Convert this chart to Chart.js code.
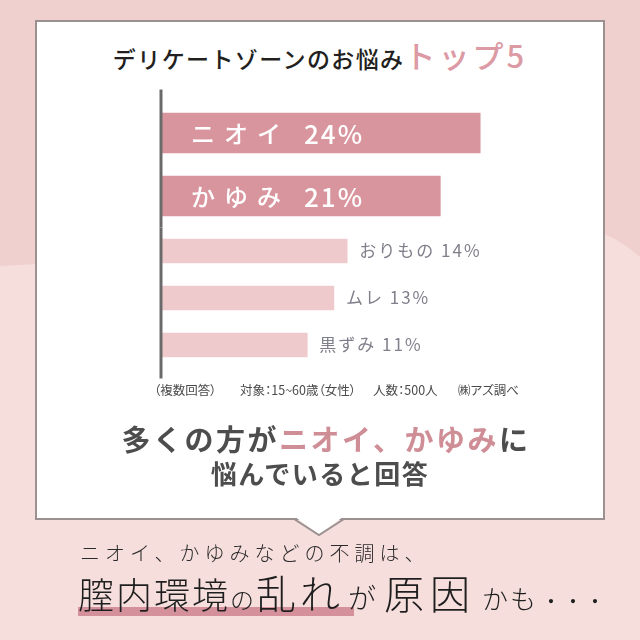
<!DOCTYPE html>
<html lang="ja">
<head>
<meta charset="utf-8">
<script src="https://cdn.jsdelivr.net/npm/chart.js@4/dist/chart.umd.min.js"></script>
<style>
  html, body { margin: 0; padding: 0; }
  body { width: 640px; height: 640px; position: relative; overflow: hidden;
         font-family: "Noto Sans CJK JP", "Noto Sans", sans-serif; background: #f6dedd; }
  .abs { position: absolute; white-space: nowrap; }
  #bg { position: absolute; left: 0; top: 0; }
  #box { position: absolute; left: 35px; top: 20px; width: 570px; height: 500px;
         box-sizing: border-box; border: 2px solid #9b9191; background: #fff; }
  #tail { position: absolute; left: 0; top: 0; }
  canvas { position: absolute; left: 0; top: 0; }
  .title1 { font-size: 23px; font-weight: 500; color: #231f20; letter-spacing: 1.4px; }
  .title2 { font-size: 31px; font-weight: 500; color: #dc9aa4; letter-spacing: 3px; }
  .note { font-size: 12.5px; color: #4a4a4a; top: 382px; line-height: 16px; font-feature-settings: "palt"; }
  .msg1 { left: 0; width: 640px; text-align: center; top: 421px; line-height: 34px;
          font-size: 29px; font-weight: 700; color: #4d4d4d; letter-spacing: 2.5px; padding-left: 6px; }
  .msg1 .pk { color: #cf8d96; }
  .msg2 { left: 0; width: 640px; text-align: center; top: 457px; line-height: 32px;
          font-size: 26px; font-weight: 700; color: #4d4d4d; letter-spacing: 1.5px; }
  .sub1 { left: 80px; top: 540px; line-height: 26px; font-size: 20px; font-weight: 300;
          color: #2b2b2b; letter-spacing: 5px; }
  .sub2 { left: 78px; top: 569px; line-height: 46px; font-weight: 300; color: #1e1e1e; }
  .sub2 span { display: inline-block; }
  #uline { position: absolute; left: 78px; top: 607px; width: 276px; height: 9px; background: #d4919b; }
</style>
</head>
<body>
<svg id="bg" width="640" height="640">
  <rect x="0" y="0" width="640" height="640" fill="#f6dedd"/>
  <path d="M0 0 L640 0 L640 257 Q620 240 604 234 Q300 250 0 266 Z" fill="#f0cfcf"/>
</svg>
<div id="box"></div>
<svg id="tail" width="640" height="640">
  <polygon points="294,516 319,535 344,516" fill="#fff"/>
  <polyline points="294,519 319,535 344,519" fill="none" stroke="#9b9191" stroke-width="2"/>
</svg>

<div class="abs" style="left:0;width:640px;text-align:center;top:33px;line-height:44px;">
  <span class="title1">デリケートゾーンのお悩み</span><span class="title2">トップ5</span>
</div>

<canvas id="chartTop" width="640" height="640"></canvas>
<canvas id="chartOther" width="640" height="640"></canvas>

<div class="abs note" style="left:154px;">（複数回答）</div>
<div class="abs note" style="left:240px;">対象：15~60歳（女性）</div>
<div class="abs note" style="left:373px;">人数：500人</div>
<div class="abs note" style="left:458px;">㈱アズ調べ</div>

<div class="abs msg1">多くの方が<span class="pk">ニオイ、かゆみ</span>に</div>
<div class="abs msg2">悩んでいると回答</div>

<div id="uline"></div>
<div class="abs sub1">ニオイ、かゆみなどの不調は、</div>
<div class="abs sub2"><span style="width:152px;font-size:36px;letter-spacing:2px;">膣内環境</span><span style="width:26px;font-size:24px;">の</span><span style="width:92px;font-size:40px;letter-spacing:4px;">乱れ</span><span style="width:36px;font-size:28px;">が</span><span style="width:98px;font-size:40px;letter-spacing:6px;">原因</span><span style="width:58px;font-size:26px;letter-spacing:2px;">かも</span><span style="font-size:22px;letter-spacing:0px;">・・・</span></div>

<script>
// ---- data ----
const topCategories = ['ニオイ', 'かゆみ'];
const topValues = [24, 21];
const otherCategories = ['おりもの', 'ムレ', '黒ずみ'];
const otherValues = [14, 13, 11];
const xMax = 30;

const pxPerUnit = 13.3;
const plotLeft = 161;
const plotRight = 640 - plotLeft - xMax * pxPerUnit;

function labelPlugin(kind) {
  return {
    id: 'barLabels',
    afterDatasetsDraw(chart) {
      const ctx = chart.ctx;
      ctx.save();
      ctx.textBaseline = 'middle';
      ctx.textAlign = 'left';
      chart.getDatasetMeta(0).data.forEach((bar, i) => {
        if (kind === 'top') {
          ctx.fillStyle = '#ffffff';
          ctx.font = '500 24px "Noto Sans CJK JP"';
          ctx.letterSpacing = '9px';
          ctx.fillText(topCategories[i], bar.base + 30, bar.y + 1);
          ctx.font = '500 26px "Noto Sans CJK JP"';
          ctx.letterSpacing = '2px';
          ctx.fillText(topValues[i] + '%', bar.base + 143, bar.y + 1);
        } else {
          ctx.fillStyle = '#80808c';
          ctx.font = '400 17px "Noto Sans CJK JP"';
          ctx.letterSpacing = '2px';
          ctx.fillText(otherCategories[i] + ' ' + otherValues[i] + '%', bar.x + 12, bar.y);
        }
      });
      ctx.restore();
    }
  };
}

function axisLinePlugin(extTop, extBottom) {
  return {
    id: 'axisLine',
    afterDatasetsDraw(chart) {
      const ctx = chart.ctx;
      const x0 = chart.scales.x.getPixelForValue(0);
      ctx.save();
      ctx.strokeStyle = '#6a6a6a';
      ctx.lineWidth = 3;
      ctx.beginPath();
      ctx.moveTo(x0, chart.chartArea.top - extTop);
      ctx.lineTo(x0, chart.chartArea.bottom + extBottom);
      ctx.stroke();
      ctx.restore();
    }
  };
}

function makeChart(id, labels, values, color, thickness, padTop, padBottom, kind, extTop, extBottom) {
  return new Chart(document.getElementById(id), {
    type: 'bar',
    data: {
      labels: labels,
      datasets: [{ data: values, backgroundColor: color, barThickness: thickness }]
    },
    options: {
      indexAxis: 'y',
      responsive: false,
      animation: false,
      devicePixelRatio: 1,
      layout: { padding: { left: plotLeft, right: plotRight, top: padTop, bottom: padBottom } },
      plugins: { legend: { display: false }, tooltip: { enabled: false } },
      scales: {
        x: { type: 'linear', min: 0, max: xMax, display: false },
        y: { type: 'category', offset: true, display: false }
      }
    },
    plugins: [labelPlugin(kind), axisLinePlugin(extTop, extBottom)]
  });
}

// top group: 2 thick bars, area 101.5..227.5 ; other group: 3 thin bars, area 227.5..368.5
makeChart('chartTop', topCategories, topValues, '#d9959d', 40, 101.5, 640 - 227.5, 'top', 12, 0);
makeChart('chartOther', otherCategories, otherValues, '#eecacd', 24, 227.5, 640 - 368.5, 'other', 0, 10);
</script>
</body>
</html>
